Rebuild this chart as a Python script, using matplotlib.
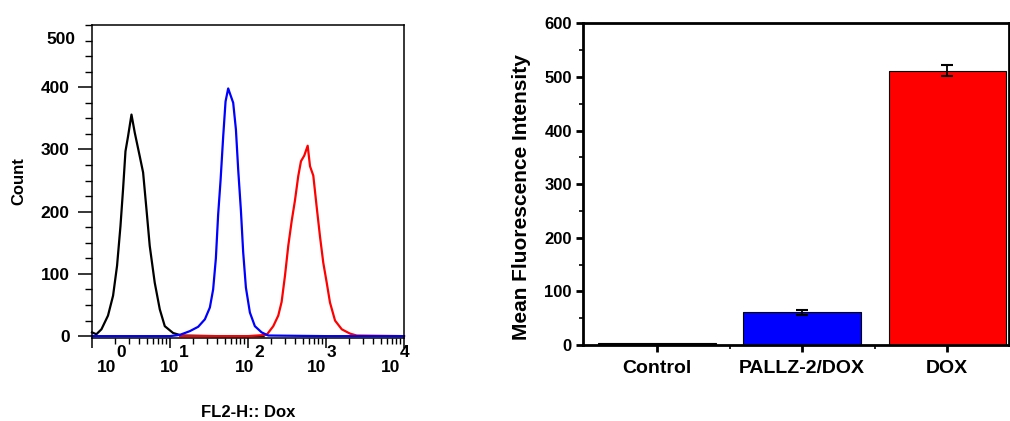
import numpy as np
import matplotlib
matplotlib.use('Agg')
import matplotlib.pyplot as plt
from matplotlib import transforms
from matplotlib.ticker import FixedLocator, NullFormatter, LogLocator

plt.rcParams['font.family'] = ['Liberation Sans', 'DejaVu Sans']
plt.rcParams['font.weight'] = 'bold'

# ── flow cytometry histograms (log10 of FL2-H, count) ──
ctrl_logx = [0.0, 0.056, 0.121, 0.205, 0.270, 0.321, 0.365, 0.398, 0.429, 0.462,
             0.506, 0.548, 0.612, 0.655, 0.698, 0.740, 0.804, 0.869, 0.933, 1.040,
             1.148, 1.6, 2.2]
ctrl_cnt = [6, 3, 11, 33, 65, 113, 177, 236, 297, 321,
            356, 327, 289, 263, 204, 145, 86, 43, 16, 5,
            1, 0, 0]

pallz_logx = [0.0, 1.0, 1.126, 1.254, 1.361, 1.447, 1.511, 1.553, 1.588, 1.617,
              1.648, 1.682, 1.712, 1.746, 1.768, 1.810, 1.845, 1.874, 1.909, 1.938,
              1.973, 2.024, 2.088, 2.175, 2.259, 3.0, 4.0]
pallz_cnt = [0, 0, 2, 8, 15, 27, 46, 75, 125, 195,
             250, 321, 377, 398, 390, 375, 332, 268, 202, 135,
             78, 38, 16, 6, 1, 0, 0]

dox_logx = [1.13, 2.0, 2.239, 2.324, 2.388, 2.431, 2.474, 2.516, 2.560, 2.602,
            2.644, 2.679, 2.721, 2.765, 2.795, 2.837, 2.881, 2.923, 2.965, 3.009,
            3.051, 3.116, 3.202, 3.308, 3.394, 4.0]
dox_cnt = [0, 0, 2, 16, 33, 55, 97, 145, 185, 218,
           257, 281, 290, 306, 273, 258, 207, 160, 118, 86,
           54, 25, 11, 4, 1, 0]

# ── mean fluorescence intensity bars ──
groups = ['Control', 'PALLZ-2/DOX', 'DOX']
mfi = [4, 61, 512]
mfi_err = [0, 5, 10]
bar_colors = ['#000000', '#0000ff', '#ff0000']

fig = plt.figure(figsize=(10.1, 4.21), dpi=100)

# ---------------- left panel ----------------
ax1 = fig.add_axes([0.0911, 0.1979, 0.3089, 0.7428])
for lx, cnt, c in [(ctrl_logx, ctrl_cnt, 'black'),
                   (dox_logx, dox_cnt, '#ff0000'),
                   (pallz_logx, pallz_cnt, '#0000ff')]:
    ax1.plot(10 ** np.array(lx), cnt, color=c, lw=1.6, clip_on=False)

ax1.set_xscale('log')
ax1.set_xlim(1, 1e4)
ax1.set_ylim(-2.5, 500)
for s in ax1.spines.values():
    s.set_linewidth(1.1)

ax1.yaxis.set_major_locator(FixedLocator([0, 100, 200, 300, 400]))
ax1.yaxis.set_minor_locator(FixedLocator(np.arange(0, 501, 25)))
ax1.tick_params(axis='y', which='major', direction='out', length=10, width=1.1,
                labelsize=12.5, pad=6)
ax1.tick_params(axis='y', which='minor', direction='out', length=5, width=1)
ax1.text(-0.053, 476, '500', transform=transforms.blended_transform_factory(
    ax1.transAxes, ax1.transData), ha='right', va='center', fontsize=12.5,
    fontweight='bold')

ax1.xaxis.set_major_locator(FixedLocator([1, 10, 100, 1000, 10000]))
ax1.xaxis.set_minor_locator(LogLocator(base=10, subs=np.arange(2, 10)))
ax1.xaxis.set_major_formatter(NullFormatter())
ax1.xaxis.set_minor_formatter(NullFormatter())
ax1.tick_params(axis='x', which='major', direction='out', length=7, width=1.1)
ax1.tick_params(axis='x', which='minor', direction='out', length=4, width=1)

# FlowJo-style decade labels
blend = transforms.blended_transform_factory(ax1.transData, ax1.transAxes)
dx_base = [15, 0, -3, -9, -13]
for d in range(5):
    tb = transforms.offset_copy(blend, fig=fig, x=dx_base[d], y=0, units='dots')
    ax1.text(10 ** d, -0.094, '10', transform=tb, ha='center', va='center',
             fontsize=12.5, fontweight='bold', clip_on=False)
    te = transforms.offset_copy(blend, fig=fig, x=dx_base[d] + 14, y=0, units='dots')
    ax1.text(10 ** d, -0.046, str(d), transform=te, ha='center', va='center',
             fontsize=12.5, fontweight='bold', clip_on=False)

ax1.set_ylabel('Count', fontsize=12, fontweight='bold', va='center')
ax1.yaxis.set_label_coords(-0.234, 0.5)
ax1.set_xlabel('FL2-H:: Dox', fontsize=12, fontweight='bold', va='center')
ax1.xaxis.set_label_coords(0.5, -0.24)

# ---------------- right panel ----------------
ax2 = fig.add_axes([0.5772, 0.1805, 0.4218, 0.7641])
xpos = np.arange(len(groups))
ax2.bar(xpos, mfi, width=0.81, color=bar_colors, edgecolor='black', linewidth=0.8,
        zorder=2)
ax2.errorbar(xpos[1:], mfi[1:], yerr=mfi_err[1:], fmt='none', ecolor='black',
             elinewidth=1.3, capsize=4, capthick=1.5, zorder=3)
ax2.set_xlim(-0.51, 2.425)
ax2.set_ylim(0, 600)
for s in ax2.spines.values():
    s.set_linewidth(2.0)
ax2.set_xticks(xpos)
ax2.set_xticklabels(groups, fontsize=14, fontweight='bold')
ax2.set_xticks([0.5, 1.5], minor=True)
ax2.set_yticks(np.arange(0, 601, 100))
ax2.set_yticks(np.arange(50, 600, 100), minor=True)
ax2.tick_params(axis='x', which='major', direction='out', length=5, width=2, pad=6)
ax2.tick_params(axis='x', which='minor', direction='out', length=3, width=1.2)
ax2.tick_params(axis='y', which='major', direction='out', length=5, width=2,
                labelsize=12, pad=3)
ax2.tick_params(axis='y', which='minor', direction='out', length=3, width=1.2)
ax2.set_ylabel('Mean Fluorescence Intensity', fontsize=15, fontweight='bold',
               va='center')
ax2.yaxis.set_label_coords(-0.144, 0.461)

fig.savefig('out.png', dpi=100, facecolor='white')
